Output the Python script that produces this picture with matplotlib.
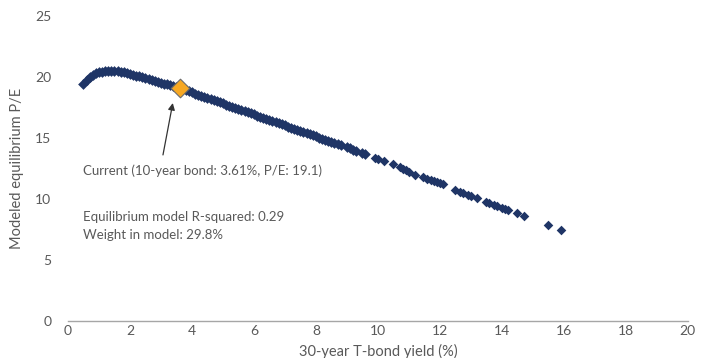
import matplotlib
matplotlib.use("Agg")
import matplotlib.pyplot as plt

# Dense part of the modelled curve (30-year yield %, modelled P/E)
curve_x = [0.5, 0.6, 0.7, 0.8, 0.9, 1.0, 1.1, 1.2, 1.3, 1.4, 1.5, 1.6, 1.7, 1.8, 1.9,
           2.0, 2.1, 2.2, 2.3, 2.4, 2.5, 2.6, 2.7, 2.8, 2.9, 3.0, 3.1, 3.2, 3.3, 3.4,
           3.5, 3.6, 3.7, 3.8, 3.9, 4.0, 4.1, 4.2, 4.3, 4.4, 4.5, 4.6, 4.7, 4.8, 4.9,
           5.0, 5.1, 5.2, 5.3, 5.4, 5.5, 5.6, 5.7, 5.8, 5.9, 6.0, 6.1, 6.2, 6.3, 6.4,
           6.5, 6.6, 6.7, 6.8, 6.9, 7.0, 7.1, 7.2, 7.3, 7.4, 7.5, 7.6, 7.7, 7.8, 7.9,
           8.0, 8.1, 8.2, 8.3, 8.4, 8.5, 8.6, 8.7, 8.8, 9.0, 9.1, 9.2, 9.3, 9.5, 9.6]
curve_pe = [19.40, 19.75, 20.00, 20.15, 20.30, 20.40, 20.45, 20.50, 20.52, 20.52, 20.50,
            20.47, 20.43, 20.38, 20.33, 20.27, 20.20, 20.13, 20.06, 19.99, 19.92, 19.85,
            19.77, 19.70, 19.62, 19.55, 19.47, 19.40, 19.32, 19.25, 19.17, 19.10, 19.01,
            18.92, 18.83, 18.74, 18.65, 18.56, 18.47, 18.38, 18.29, 18.20, 18.11, 18.02,
            17.93, 17.84, 17.75, 17.66, 17.57, 17.48, 17.39, 17.30, 17.21, 17.12, 17.03,
            16.94, 16.85, 16.76, 16.67, 16.58, 16.49, 16.40, 16.31, 16.22, 16.13, 16.04,
            15.95, 15.86, 15.77, 15.68, 15.59, 15.50, 15.41, 15.32, 15.23, 15.14, 15.05,
            14.96, 14.87, 14.78, 14.69, 14.60, 14.51, 14.42, 14.24, 14.15, 14.06, 13.97,
            13.79, 13.70]

# Sparse high-yield observations
sparse_x = [9.9, 10.0, 10.2, 10.5, 10.7, 10.8, 10.9, 11.0, 11.2, 11.45, 11.6, 11.7, 11.8,
            11.9, 12.0, 12.1, 12.5, 12.65, 12.75, 12.9, 13.0, 13.2, 13.5, 13.6, 13.75,
            13.85, 14.0, 14.1, 14.2, 14.5, 14.7, 15.5, 15.9]
sparse_pe = [13.4, 13.3, 13.15, 12.85, 12.6, 12.5, 12.4, 12.2, 12.0, 11.8, 11.65, 11.55,
             11.5, 11.4, 11.3, 11.2, 10.75, 10.6, 10.5, 10.35, 10.25, 10.1, 9.75, 9.65,
             9.55, 9.45, 9.3, 9.2, 9.1, 8.85, 8.6, 7.9, 7.5]

current_x = 3.61
current_pe = 19.1

x_ticks = [0, 2, 4, 6, 8, 10, 12, 14, 16, 18, 20]
y_ticks = [0, 5, 10, 15, 20, 25]

navy = '#1f3566'
grey = '#595959'

plt.rcParams['font.family'] = ['Lato', 'DejaVu Sans']

fig = plt.figure(figsize=(7.15, 3.58), dpi=100)
ax = fig.add_axes([0.095, 0.103, 0.867, 0.852])

ax.scatter(curve_x, curve_pe, marker='D', s=30, color=navy, linewidths=0, zorder=2)
ax.scatter(sparse_x, sparse_pe, marker='D', s=24, color=navy, linewidths=0, zorder=2)
ax.scatter([current_x], [current_pe], marker='D', s=90, color='#f7a823',
           edgecolors='#6b6b6b', linewidths=0.8, zorder=3)

ax.annotate('', xy=(3.4, 18.1), xytext=(3.05, 13.4),
            arrowprops=dict(arrowstyle='-|>', color='#333333', lw=0.9,
                            mutation_scale=10))
ax.text(0.48, 12.3, 'Current (10-year bond: 3.61%, P/E: 19.1)', fontsize=9.5,
        color=grey, va='center')
ax.text(0.48, 8.5, 'Equilibrium model R-squared: 0.29', fontsize=9.5,
        color=grey, va='center')
ax.text(0.48, 7.05, 'Weight in model: 29.8%', fontsize=9.5,
        color=grey, va='center')

ax.set_xlim(0, 20)
ax.set_ylim(0, 25)
ax.set_xticks(x_ticks)
ax.set_yticks(y_ticks)
ax.tick_params(length=0, labelsize=10, labelcolor=grey)
ax.tick_params(axis='y', pad=12)
ax.tick_params(axis='x', pad=3)
for side in ['top', 'right', 'left']:
    ax.spines[side].set_visible(False)
ax.spines['bottom'].set_color('#a6a6a6')
ax.spines['bottom'].set_linewidth(1)

ax.set_xlabel('30-year T-bond yield (%)', fontsize=10.5, color=grey, labelpad=5)
ax.set_ylabel('Modeled equilibrium P/E', fontsize=10.5, color=grey, labelpad=8)

fig.savefig('out.png', dpi=100)
plt.close(fig)
